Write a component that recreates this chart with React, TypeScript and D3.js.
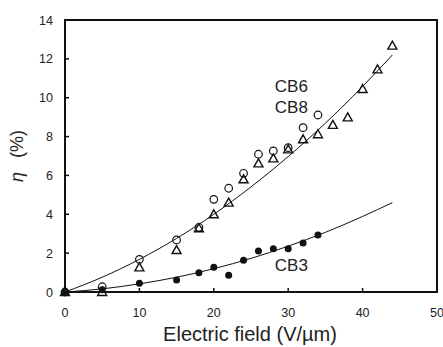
import React, { useEffect, useRef } from 'react';
import * as d3 from 'd3';

// Electric field (V/um) for each series
const cb6Field = [0, 5, 10, 15, 18, 20, 22, 24, 26, 28, 30, 32, 34];
const cb6Eta = [0, 0.27, 1.68, 2.68, 3.33, 4.77, 5.34, 6.11, 7.09, 7.26, 7.43, 8.46, 9.11];

const cb8Field = [0, 5, 10, 15, 18, 20, 22, 24, 26, 28, 30, 32, 34, 36, 38, 40, 42, 44];
const cb8Eta = [0, 0, 1.27, 2.16, 3.28, 4.0, 4.6, 5.8, 6.62, 6.88, 7.34, 7.86, 8.12, 8.6, 8.99, 10.45, 11.46, 12.68];

const cb3Field = [0, 5, 10, 15, 18, 20, 22, 24, 26, 28, 30, 32, 34];
const cb3Eta = [0, 0.12, 0.45, 0.62, 0.99, 1.27, 0.86, 1.63, 2.11, 2.23, 2.23, 2.52, 2.93];

// fitted curves
const fitField = [0, 5, 10, 15, 20, 25, 30, 35, 40, 44];
const fitUpper = [0, 0.76, 1.68, 2.76, 4.0, 5.41, 6.97, 8.69, 10.58, 12.2];
const fitLower = [0, 0.16, 0.42, 0.76, 1.2, 1.73, 2.36, 3.07, 3.89, 4.6];

const xTicks = [0, 10, 20, 30, 40, 50];
const yTicks = [0, 2, 4, 6, 8, 10, 12, 14];

const labels = [
  { text: 'CB6', x: 28.2, y: 10.27 },
  { text: 'CB8', x: 28.2, y: 9.2 },
  { text: 'CB3', x: 28.2, y: 1.08 },
];

export default function App() {
  const svgRef = useRef<SVGSVGElement>(null);

  useEffect(() => {
    if (!svgRef.current) return;
    const svg = d3.select(svgRef.current);
    svg.selectAll('*').remove();

    const width = 443;
    const height = 347;
    const margin = { top: 20, right: 6, bottom: 55, left: 65 };
    const innerWidth = width - margin.left - margin.right;
    const innerHeight = height - margin.top - margin.bottom;
    const font = 'Liberation Sans, Arial, sans-serif';

    const g = svg.append('g')
      .attr('transform', `translate(${margin.left},${margin.top})`);

    const xScale = d3.scaleLinear().domain([0, 50]).range([0, innerWidth]);
    const yScale = d3.scaleLinear().domain([0, 14]).range([innerHeight, 0]);

    // frame
    g.append('rect')
      .attr('x', 0)
      .attr('y', 0)
      .attr('width', innerWidth)
      .attr('height', innerHeight)
      .attr('fill', 'none')
      .attr('stroke', '#111')
      .attr('stroke-width', 2);

    // ticks (inside)
    g.selectAll('.xtick')
      .data(xTicks)
      .enter()
      .append('line')
      .attr('x1', d => xScale(d))
      .attr('x2', d => xScale(d))
      .attr('y1', innerHeight)
      .attr('y2', innerHeight - 4)
      .attr('stroke', '#111')
      .attr('stroke-width', 1.5);

    g.selectAll('.ytick')
      .data(yTicks)
      .enter()
      .append('line')
      .attr('x1', 0)
      .attr('x2', 4)
      .attr('y1', d => yScale(d))
      .attr('y2', d => yScale(d))
      .attr('stroke', '#111')
      .attr('stroke-width', 1.5);

    g.selectAll('.xlabel')
      .data(xTicks)
      .enter()
      .append('text')
      .attr('x', d => xScale(d))
      .attr('y', innerHeight + 25)
      .attr('text-anchor', 'middle')
      .style('font-family', font)
      .style('font-size', '12.5px')
      .style('fill', '#222')
      .text(d => d);

    g.selectAll('.ylabel')
      .data(yTicks)
      .enter()
      .append('text')
      .attr('x', -12)
      .attr('y', d => yScale(d) + 4.5)
      .attr('text-anchor', 'end')
      .style('font-family', font)
      .style('font-size', '12.5px')
      .style('fill', '#222')
      .text(d => d);

    // axis titles
    g.append('text')
      .attr('x', innerWidth / 2 - 1)
      .attr('y', innerHeight + 49)
      .attr('text-anchor', 'middle')
      .style('font-family', font)
      .style('font-size', '20px')
      .style('fill', '#222')
      .text('Electric field (V/\u00b5m)');

    const yTitle = g.append('text')
      .attr('transform', `translate(${-42},${yScale(7.0)}) rotate(-90)`)
      .attr('text-anchor', 'middle')
      .style('font-family', font)
      .style('font-size', '18px')
      .style('fill', '#222');
    yTitle.append('tspan').style('font-style', 'italic').text('\u03b7');
    yTitle.append('tspan').attr('dx', 14).text('(%)');

    // fit curves
    const fitLine = d3.line<number>()
      .x((_, i) => xScale(fitField[i]))
      .y(d => yScale(d))
      .curve(d3.curveMonotoneX);

    [fitUpper, fitLower].forEach(values => {
      g.append('path')
        .datum(values)
        .attr('fill', 'none')
        .attr('stroke', '#111')
        .attr('stroke-width', 1)
        .attr('d', fitLine);
    });

    // CB8 triangles
    const tri = 'M0,-4.5L4.5,3.5L-4.5,3.5Z';
    g.selectAll('.cb8')
      .data(cb8Eta)
      .enter()
      .append('path')
      .attr('transform', (d, i) => `translate(${xScale(cb8Field[i])},${yScale(d)})`)
      .attr('d', tri)
      .attr('fill', 'none')
      .attr('stroke', '#111')
      .attr('stroke-width', 1.4);

    // CB6 open circles
    g.selectAll('.cb6')
      .data(cb6Eta)
      .enter()
      .append('circle')
      .attr('cx', (d, i) => xScale(cb6Field[i]))
      .attr('cy', d => yScale(d))
      .attr('r', 3.8)
      .attr('fill', 'none')
      .attr('stroke', '#111')
      .attr('stroke-width', 1.2);

    // CB3 filled circles
    g.selectAll('.cb3')
      .data(cb3Eta)
      .enter()
      .append('circle')
      .attr('cx', (d, i) => xScale(cb3Field[i]))
      .attr('cy', d => yScale(d))
      .attr('r', 3.5)
      .attr('fill', '#111');

    // series labels
    g.selectAll('.series-label')
      .data(labels)
      .enter()
      .append('text')
      .attr('x', d => xScale(d.x))
      .attr('y', d => yScale(d.y))
      .style('font-family', font)
      .style('font-size', '17px')
      .style('fill', '#222')
      .text(d => d.text);
  }, []);

  return (
    <svg
      ref={svgRef}
      width={443}
      height={347}
      style={{ position: 'absolute', left: 0, top: 0, background: '#fff' }}
    />
  );
}
